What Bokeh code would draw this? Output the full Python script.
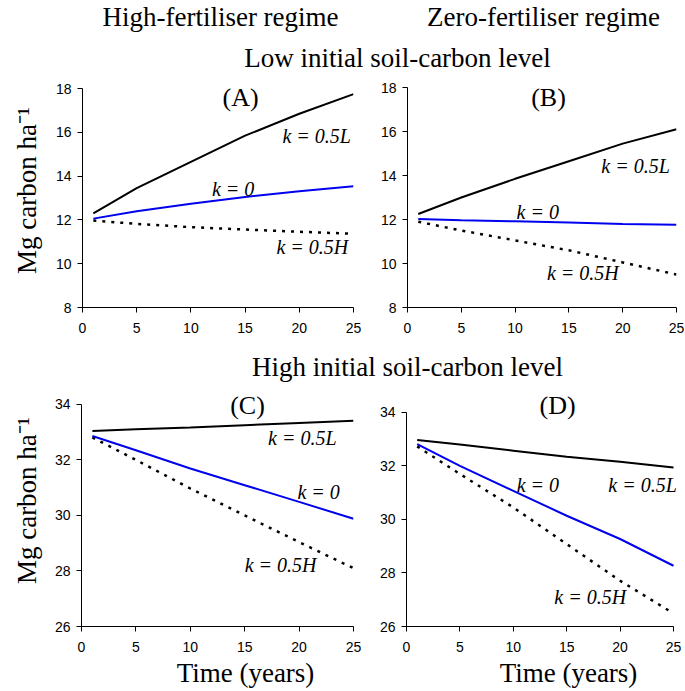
import math
from bokeh.plotting import figure
from bokeh.layouts import column, row
from bokeh.models import Range1d, FixedTicker, Label
from bokeh.core.properties import value
from bokeh.embed import file_html
from bokeh.resources import INLINE

# ---------------- data ----------------
years = [1, 5, 10, 15, 20, 25]

A_L = [12.3, 13.45, 14.65, 15.85, 16.85, 17.75]
A_0 = [12.06, 12.4, 12.74, 13.05, 13.31, 13.54]
A_H = [11.97, 11.82, 11.67, 11.56, 11.46, 11.37]

B_L = [12.25, 13.0, 13.85, 14.65, 15.45, 16.1]
B_0 = [12.02, 11.97, 11.92, 11.86, 11.8, 11.76]
B_H = [11.9, 11.5, 11.05, 10.6, 10.05, 9.5]

C_L = [33.04, 33.1, 33.17, 33.25, 33.33, 33.41]
C_0 = [32.86, 32.35, 31.69, 31.09, 30.49, 29.88]
C_H = [32.81, 32.0, 30.97, 30.0, 29.04, 28.1]

D_L = [32.97, 32.8, 32.57, 32.34, 32.16, 31.94]
D_0 = [32.82, 32.0, 31.07, 30.14, 29.27, 28.27]
D_H = [32.73, 31.7, 30.45, 29.08, 27.71, 26.49]

x_ticks = [0, 5, 10, 15, 20, 25]
low_ticks = [8, 10, 12, 14, 16, 18]
high_ticks = [26, 28, 30, 32, 34]

series_labels = ["k = 0.5L", "k = 0", "k = 0.5H"]
# label anchor positions (data coords) per panel: [L, 0, H]
A_lab_x = [21.6, 13.9, 21.2]
A_lab_y = [15.85, 13.4, 10.75]
B_lab_x = [21.2, 12.1, 16.3]
B_lab_y = [14.45, 12.36, 9.55]
C_lab_x = [20.3, 21.8, 18.3]
C_lab_y = [32.8, 30.83, 28.23]
D_lab_x = [22.1, 12.3, 17.2]
D_lab_y = [31.3, 31.3, 27.12]

col_titles = ["High-fertiliser regime", "Zero-fertiliser regime"]
row_titles = ["Low initial soil-carbon level", "High initial soil-carbon level"]
y_title = "Mg carbon ha\u207b\u00b9"
x_title = "Time (years)"

SERIF = "Liberation Serif"
SANS = "Liberation Sans"
W = 684


def panel(width, height, xr, yr, ybounds, yticks, left, right, top, bottom,
          L, Z, H, lab_x, lab_y, letter, letter_x, letter_y):
    p = figure(width=width, height=height,
               x_range=Range1d(*xr), y_range=Range1d(*yr),
               output_backend="svg", toolbar_location=None,
               min_border_left=left, min_border_right=right,
               min_border_top=top, min_border_bottom=bottom)
    p.grid.visible = False
    p.outline_line_color = None
    p.xaxis.ticker = FixedTicker(ticks=x_ticks)
    p.yaxis.ticker = FixedTicker(ticks=yticks)
    p.xaxis.bounds = (0, 25)
    p.yaxis.bounds = ybounds
    for ax in p.axis:
        ax.axis_line_color = "black"
        ax.axis_line_width = 1
        ax.major_tick_line_color = "black"
        ax.major_tick_out = 5
        ax.major_tick_in = 0
        ax.minor_tick_line_color = None
        ax.major_label_text_font = SANS
        ax.major_label_text_font_size = "14px"
        ax.major_label_text_color = "black"
    p.yaxis.major_label_standoff = 6
    p.xaxis.major_label_standoff = 10

    p.line(years, H, line_color="black", line_width=2.5, line_dash="3 6")
    p.line(years, L, line_color="black", line_width=2)
    p.line(years, Z, line_color="#0000ee", line_width=2)

    p.text(x=lab_x, y=lab_y, text=series_labels,
           text_font=value(SERIF), text_font_style="italic",
           text_font_size="20px", text_align="center",
           text_baseline="middle", text_color="black")
    p.add_layout(Label(x=letter_x, y=letter_y, text=letter,
                       text_font=SERIF, text_font_size="26px",
                       text_align="center", text_baseline="middle",
                       text_color="black"))
    return p


def textbox(width, height, texts, xs, ys, angle=0.0):
    p = figure(width=width, height=height,
               x_range=Range1d(0, width), y_range=Range1d(0, height),
               output_backend="svg", toolbar_location=None,
               min_border=0, x_axis_type=None, y_axis_type=None)
    p.grid.visible = False
    p.outline_line_color = None
    p.text(x=xs, y=ys, text=texts, angle=angle, text_font=value(SERIF),
           text_font_size="27px", text_align="center",
           text_baseline="middle", text_color="black")
    return p


h1 = textbox(W, 78, [col_titles[0], col_titles[1], row_titles[0]],
             [220, 543, 397], [62, 62, 21])

labA = textbox(44, 264, [y_title], [26], [136], angle=math.pi / 2)
pA = panel(319, 264, (0, 25), (8, 18.37), (8, 18), low_ticks, 38, 10, 2, 35,
           A_L, A_0, A_H, A_lab_x, A_lab_y, "(A)", 14.58, 17.59)
pB = panel(321, 264, (0, 25), (8, 18.32), (8, 18), low_ticks, 44, 8, 2, 35,
           B_L, B_0, B_H, B_lab_x, B_lab_y, "(B)", 13.1, 17.55)

h2 = textbox(W, 46, [row_titles[1]], [407], [22])

labC = textbox(44, 268, [y_title], [26], [143], angle=math.pi / 2)
pC = panel(319, 268, (0, 25), (26, 34.5), (26, 34), high_ticks, 37, 10, 2, 30,
           C_L, C_0, C_H, C_lab_x, C_lab_y, "(C)", 15.26, 33.96)
pD = panel(321, 268, (0, 25.655), (26, 34.82), (26, 34), high_ticks, 43, 4, 2, 30,
           D_L, D_0, D_H, D_lab_x, D_lab_y, "(D)", 14.14, 34.26)

h3 = textbox(W, 35, [x_title, x_title], [245, 568], [19, 19])

layout = column(h1, row(labA, pA, pB), h2, row(labC, pC, pD), h3, spacing=0)

open("out.html", "w").write(file_html(layout, INLINE))
